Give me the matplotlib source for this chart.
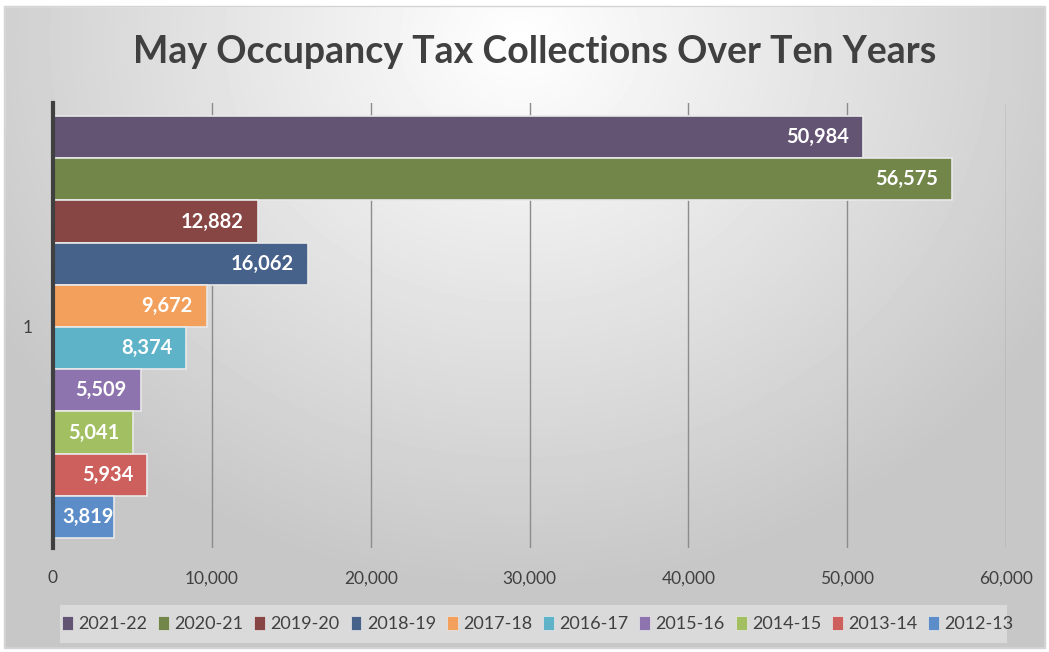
import numpy as np
import matplotlib.pyplot as plt
from matplotlib.patches import Rectangle

# data, top bar first
seasons = ["2021-22", "2020-21", "2019-20", "2018-19", "2017-18",
           "2016-17", "2015-16", "2014-15", "2013-14", "2012-13"]
collections = [50984, 56575, 12882, 16062, 9672, 8374, 5509, 5041, 5934, 3819]
bar_colors = ["#645474", "#72864A", "#874543", "#46628A", "#F3A05C",
              "#5FB3C9", "#8E74AE", "#A2C062", "#CD5F5C", "#5C8DC8"]
x_ticks = [0, 10000, 20000, 30000, 40000, 50000, 60000]

plt.rcParams['font.family'] = ['Lato', 'DejaVu Sans']
text_col = "#404040"

W, H = 1049, 652
fig = plt.figure(figsize=(W / 100, H / 100), dpi=100)
fig.patch.set_facecolor("white")

# radial gradient background of the chart area
bg = fig.add_axes([0, 0, 1, 1], zorder=-5)
yy, xx = np.mgrid[0:H, 0:W]
d = np.sqrt(((xx - 520) / 700.0) ** 2 + ((yy - 40) / 620.0) ** 2)
shade = np.clip(1.0 - 0.25 * d, 0.78, 1.0)
bg.imshow(shade, cmap="gray", vmin=0, vmax=1, extent=[0, W, H, 0], aspect="auto")
bg.add_patch(Rectangle((0, 0), W, 6, color="white"))
bg.add_patch(Rectangle((0, H - 4), W, 4, color="white"))
bg.add_patch(Rectangle((0, 0), 4, H, color="white"))
bg.add_patch(Rectangle((W - 4, 0), 4, H, color="white"))
bg.add_patch(Rectangle((4, 6), W - 8, H - 10, fill=False, edgecolor="#d4d4d4", lw=1))
bg.set_xlim(0, W)
bg.set_ylim(H, 0)
bg.axis("off")

# legend background strip
bg.add_patch(Rectangle((60, 605), 947, 38, color="white", alpha=0.35, lw=0))

ax = fig.add_axes([53 / W, 1 - 548 / H, 953 / W, 445 / H])
ax.patch.set_alpha(0)
ax.set_xlim(0, 60000)
ax.set_ylim(9.737, -0.808)

labels = []
for i, (s, v, c) in enumerate(zip(seasons, collections, bar_colors)):
    ax.barh(i, v, height=1.0, color=c, edgecolor="#e8e8e8", linewidth=1.2,
            label=s, zorder=3)
    t = ax.annotate(f"{v:,}", xy=(v, i), xytext=(-10, 0), textcoords="offset points",
                    ha="right", va="center", color="white", fontsize=14.5,
                    fontweight="bold", zorder=4)
    labels.append((t, v))

ax.set_xticks(x_ticks)
ax.set_xticklabels([f"{t:,}" for t in x_ticks], fontsize=12.5, color=text_col)
ax.set_yticks([4.5])
ax.set_yticklabels(["1"], fontsize=12.5, color=text_col)
ax.tick_params(axis="x", length=0, pad=16)
ax.tick_params(axis="y", length=0, pad=15)
ax.grid(axis="x", color="#8c8c8c", linewidth=1, zorder=0)
for sp in ["top", "right", "bottom"]:
    ax.spines[sp].set_visible(False)
ax.spines["left"].set_color("#404040")
ax.spines["left"].set_linewidth(3)
ax.spines["left"].set_zorder(5)

# short bars: push the label right so it stays clear of the axis line
fig.canvas.draw()
r = fig.canvas.get_renderer()
for t, v in labels:
    bar_px = ax.transData.transform((v, 0))[0] - ax.transData.transform((0, 0))[0]
    tw = t.get_window_extent(r).width
    off = min(14, max(0, bar_px - tw - 13))
    t.set_position((-off * 72 / 100, 0))

fig.suptitle("May Occupancy Tax Collections Over Ten Years", x=0.51, y=0.947,
             fontsize=27, fontweight="bold", color=text_col)

leg = fig.legend(loc="center", bbox_to_anchor=(538 / W, 1 - 624 / H), ncol=10,
                 frameon=False, fontsize=13, handlelength=0.6, handleheight=0.8,
                 handletextpad=0.3, columnspacing=0.6, labelcolor=text_col)
for h in leg.legend_handles:
    h.set_edgecolor("#e8e8e8")
    h.set_linewidth(0.5)

fig.savefig("out.png", dpi=100)
